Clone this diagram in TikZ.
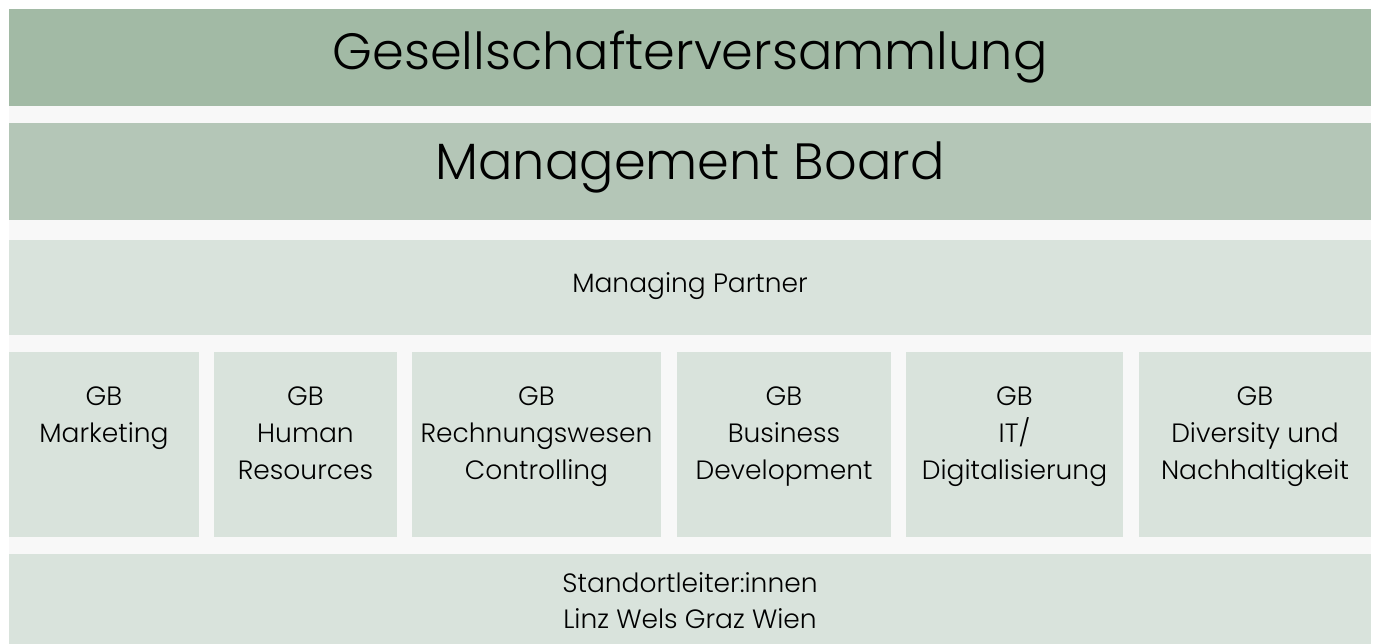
\documentclass[tikz,border=0pt]{standalone}
\usepackage{fontspec}
\setmainfont{Poppins Light}
\definecolor{cTop}{RGB}{162,186,165}
\definecolor{cMB}{RGB}{180,198,183}
\definecolor{cLight}{RGB}{217,227,220}
\definecolor{cGap}{RGB}{248,248,248}
\begin{document}
\begin{tikzpicture}[x=1pt,y=-1pt,
  big/.style={font=\fontsize{51}{60}\selectfont,inner sep=0pt,anchor=base},
  small/.style={font=\fontsize{26.5}{37}\selectfont,inner sep=0pt,anchor=base,align=center}]
\useasboundingbox (0,0) rectangle (1376,644);
\fill[white] (0,0) rectangle (1376,644);
\fill[cGap] (9,9) rectangle (1371,644);
\fill[cTop] (9,9) rectangle (1371,106);
\fill[cMB] (9,123) rectangle (1371,220);
\fill[cLight] (9,240) rectangle (1371,335);
\fill[cLight] (9,352) rectangle (199,537);
\fill[cLight] (214,352) rectangle (397,537);
\fill[cLight] (412,352) rectangle (661,537);
\fill[cLight] (677,352) rectangle (891,537);
\fill[cLight] (906,352) rectangle (1123,537);
\fill[cLight] (1139,352) rectangle (1371,537);
\fill[cLight] (9,554) rectangle (1371,644);
\node[big] (gv) at (690,70) {Gesellschafterversammlung};
\node[big] (mb) at (690,180) {Management Board};
\node[small] (mp) at (690,293) {Managing Partner};
\node[small] (g1) at (104,442) {GB\\Marketing};
\node[small] (g2) at (305.5,479) {GB\\Human\\Resources};
\node[small] (g3) at (536.5,479) {GB\\Rechnungswesen\\Controlling};
\node[small] (g4) at (784,479) {GB\\Business\\Development};
\node[small] (g5) at (1014.5,479) {GB\\IT/\\Digitalisierung};
\node[small] (g6) at (1255,479) {GB\\Diversity und\\Nachhaltigkeit};
\node[small,font=\fontsize{26.5}{36}\selectfont] (st) at (690,628) {Standortleiter:innen\\Linz Wels Graz Wien};
\end{tikzpicture}
\end{document}
